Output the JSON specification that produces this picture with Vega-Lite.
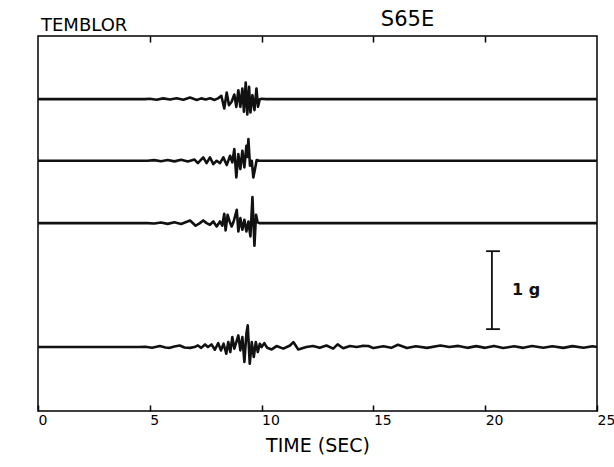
{
  "$schema": "https://vega.github.io/schema/vega-lite/v6.json",
  "width": 559,
  "height": 375,
  "autosize": {"type": "none"},
  "padding": {"left": 38, "top": 36, "right": 17, "bottom": 56},
  "background": "white",
  "title": {"text": "TEMBLOR", "anchor": "start", "frame": "group", "fontSize": 18, "fontWeight": "normal", "font": "DejaVu Sans", "color": "black", "baseline": "alphabetic", "offset": -41, "dx": 3},
  "config": {
    "view": {"stroke": "black", "strokeWidth": 1.5},
    "font": "DejaVu Sans"
  },
  "datasets": {
    "bases": [
      {"s": 1, "base": 4.0},
      {"s": 2, "base": 3.21},
      {"s": 3, "base": 2.41},
      {"s": 4, "base": 0.82}
    ],
    "traces": [
      {"s":1,"t":0,"a":0},{"s":1,"t":4.8,"a":0},{"s":1,"t":5.0,"a":0.005},{"s":1,"t":5.3,"a":-0.008},{"s":1,"t":5.6,"a":0.01},{"s":1,"t":5.9,"a":-0.005},{"s":1,"t":6.2,"a":0.012},{"s":1,"t":6.5,"a":-0.008},{"s":1,"t":6.8,"a":0.02},{"s":1,"t":6.95,"a":0.005},{"s":1,"t":7.1,"a":-0.01},{"s":1,"t":7.3,"a":0.01},{"s":1,"t":7.5,"a":-0.005},{"s":1,"t":7.7,"a":0.012},{"s":1,"t":7.9,"a":-0.01},{"s":1,"t":8.05,"a":0.01},{"s":1,"t":8.2,"a":0.043},{"s":1,"t":8.33,"a":-0.12},{"s":1,"t":8.44,"a":0.085},{"s":1,"t":8.54,"a":-0.077},{"s":1,"t":8.66,"a":-0.034},{"s":1,"t":8.78,"a":0.06},{"s":1,"t":8.87,"a":-0.1},{"s":1,"t":8.96,"a":0.115},{"s":1,"t":9.05,"a":-0.1},{"s":1,"t":9.14,"a":0.137},{"s":1,"t":9.21,"a":-0.162},{"s":1,"t":9.29,"a":0.214},{"s":1,"t":9.36,"a":-0.197},{"s":1,"t":9.44,"a":0.158},{"s":1,"t":9.5,"a":-0.171},{"s":1,"t":9.59,"a":0.051},{"s":1,"t":9.68,"a":-0.141},{"s":1,"t":9.77,"a":0.137},{"s":1,"t":9.84,"a":-0.098},{"s":1,"t":9.92,"a":0.0},{"s":1,"t":10.0,"a":0.005},{"s":1,"t":10.2,"a":0},{"s":1,"t":25,"a":0},
      {"s":2,"t":0,"a":0},{"s":2,"t":4.9,"a":0},{"s":2,"t":5.2,"a":0.008},{"s":2,"t":5.5,"a":-0.006},{"s":2,"t":5.8,"a":0.01},{"s":2,"t":6.1,"a":-0.008},{"s":2,"t":6.4,"a":0.012},{"s":2,"t":6.7,"a":-0.01},{"s":2,"t":7.0,"a":0.015},{"s":2,"t":7.15,"a":-0.03},{"s":2,"t":7.39,"a":0.043},{"s":2,"t":7.54,"a":-0.03},{"s":2,"t":7.69,"a":0.043},{"s":2,"t":7.84,"a":-0.043},{"s":2,"t":7.99,"a":0},{"s":2,"t":8.14,"a":-0.03},{"s":2,"t":8.29,"a":0.043},{"s":2,"t":8.44,"a":-0.056},{"s":2,"t":8.59,"a":0.064},{"s":2,"t":8.69,"a":-0.021},{"s":2,"t":8.78,"a":0.15},{"s":2,"t":8.87,"a":-0.214},{"s":2,"t":8.96,"a":0.085},{"s":2,"t":9.05,"a":-0.107},{"s":2,"t":9.14,"a":0.128},{"s":2,"t":9.23,"a":-0.085},{"s":2,"t":9.32,"a":0.192},{"s":2,"t":9.36,"a":0.05},{"s":2,"t":9.41,"a":0.278},{"s":2,"t":9.48,"a":-0.064},{"s":2,"t":9.56,"a":0.0},{"s":2,"t":9.63,"a":-0.214},{"s":2,"t":9.71,"a":-0.1},{"s":2,"t":9.78,"a":0.01},{"s":2,"t":9.9,"a":0},{"s":2,"t":25,"a":0},
      {"s":3,"t":0,"a":0},{"s":3,"t":4.9,"a":0},{"s":3,"t":5.2,"a":-0.006},{"s":3,"t":5.5,"a":0.008},{"s":3,"t":5.8,"a":-0.01},{"s":3,"t":6.1,"a":0.01},{"s":3,"t":6.4,"a":-0.012},{"s":3,"t":6.8,"a":0.034},{"s":3,"t":7.05,"a":-0.034},{"s":3,"t":7.24,"a":0},{"s":3,"t":7.39,"a":0.034},{"s":3,"t":7.54,"a":0},{"s":3,"t":7.69,"a":-0.021},{"s":3,"t":7.84,"a":0.021},{"s":3,"t":7.99,"a":-0.043},{"s":3,"t":8.14,"a":0.021},{"s":3,"t":8.24,"a":-0.034},{"s":3,"t":8.33,"a":0.12},{"s":3,"t":8.39,"a":-0.094},{"s":3,"t":8.48,"a":0.107},{"s":3,"t":8.57,"a":0.021},{"s":3,"t":8.66,"a":-0.043},{"s":3,"t":8.75,"a":0.021},{"s":3,"t":8.89,"a":0.171},{"s":3,"t":8.96,"a":-0.107},{"s":3,"t":9.05,"a":0.064},{"s":3,"t":9.14,"a":-0.085},{"s":3,"t":9.23,"a":0.043},{"s":3,"t":9.32,"a":-0.107},{"s":3,"t":9.41,"a":0.021},{"s":3,"t":9.5,"a":-0.171},{"s":3,"t":9.59,"a":0.333},{"s":3,"t":9.68,"a":-0.29},{"s":3,"t":9.75,"a":0.107},{"s":3,"t":9.82,"a":0.01},{"s":3,"t":9.9,"a":0},{"s":3,"t":25,"a":0},
      {"s":4,"t":0,"a":0},{"s":4,"t":4.5,"a":0},{"s":4,"t":4.8,"a":0.005},{"s":4,"t":5.1,"a":-0.008},{"s":4,"t":5.45,"a":0.013},{"s":4,"t":5.7,"a":-0.005},{"s":4,"t":5.9,"a":-0.01},{"s":4,"t":6.1,"a":0.008},{"s":4,"t":6.34,"a":0.02},{"s":4,"t":6.55,"a":-0.005},{"s":4,"t":6.8,"a":-0.01},{"s":4,"t":7.0,"a":0},{"s":4,"t":7.15,"a":0.021},{"s":4,"t":7.3,"a":-0.01},{"s":4,"t":7.47,"a":0.034},{"s":4,"t":7.6,"a":0},{"s":4,"t":7.76,"a":0.034},{"s":4,"t":7.91,"a":-0.034},{"s":4,"t":8.06,"a":0.051},{"s":4,"t":8.18,"a":-0.043},{"s":4,"t":8.3,"a":0.043},{"s":4,"t":8.42,"a":-0.085},{"s":4,"t":8.51,"a":0.064},{"s":4,"t":8.6,"a":-0.064},{"s":4,"t":8.69,"a":0.128},{"s":4,"t":8.78,"a":-0.021},{"s":4,"t":8.87,"a":0.064},{"s":4,"t":8.96,"a":0.15},{"s":4,"t":9.05,"a":-0.043},{"s":4,"t":9.14,"a":0.128},{"s":4,"t":9.23,"a":-0.19},{"s":4,"t":9.32,"a":0.171},{"s":4,"t":9.38,"a":0.278},{"s":4,"t":9.47,"a":-0.214},{"s":4,"t":9.56,"a":0.064},{"s":4,"t":9.65,"a":-0.128},{"s":4,"t":9.74,"a":0.064},{"s":4,"t":9.83,"a":-0.064},{"s":4,"t":9.92,"a":0.043},{"s":4,"t":10.0,"a":0},{"s":4,"t":10.12,"a":0.05},{"s":4,"t":10.25,"a":-0.01},{"s":4,"t":10.45,"a":-0.03},{"s":4,"t":10.67,"a":0.013},{"s":4,"t":10.97,"a":-0.02},{"s":4,"t":11.27,"a":0.02},{"s":4,"t":11.42,"a":0.064},{"s":4,"t":11.64,"a":-0.03},{"s":4,"t":12.0,"a":0},{"s":4,"t":12.3,"a":0.013},{"s":4,"t":12.6,"a":-0.01},{"s":4,"t":12.9,"a":0.02},{"s":4,"t":13.2,"a":-0.02},{"s":4,"t":13.4,"a":0.034},{"s":4,"t":13.65,"a":-0.015},{"s":4,"t":13.95,"a":0.013},{"s":4,"t":14.25,"a":0},{"s":4,"t":14.5,"a":0.015},{"s":4,"t":14.78,"a":0.013},{"s":4,"t":15.0,"a":-0.013},{"s":4,"t":15.45,"a":0.01},{"s":4,"t":15.8,"a":-0.01},{"s":4,"t":16.1,"a":0.03},{"s":4,"t":16.5,"a":-0.013},{"s":4,"t":16.9,"a":0.01},{"s":4,"t":17.4,"a":-0.01},{"s":4,"t":18.0,"a":0.02},{"s":4,"t":18.4,"a":0},{"s":4,"t":18.8,"a":0.015},{"s":4,"t":19.2,"a":-0.01},{"s":4,"t":19.6,"a":0.012},{"s":4,"t":20.0,"a":-0.01},{"s":4,"t":20.4,"a":0.015},{"s":4,"t":20.8,"a":-0.012},{"s":4,"t":21.3,"a":0.01},{"s":4,"t":21.7,"a":-0.01},{"s":4,"t":22.1,"a":0.013},{"s":4,"t":22.6,"a":-0.008},{"s":4,"t":23.0,"a":0.01},{"s":4,"t":23.5,"a":-0.01},{"s":4,"t":23.9,"a":0.012},{"s":4,"t":24.4,"a":-0.008},{"s":4,"t":24.8,"a":0.01},{"s":4,"t":25.0,"a":0}
    ],
    "bar": [{"x": 20.3, "y1": 1.05, "y2": 2.05, "label": "1 g", "lx": 21.2, "ly": 1.55}],
    "caps": [{"x1": 20.04, "x2": 20.66, "y": 1.05}, {"x1": 20.04, "x2": 20.66, "y": 2.05}]
  },
  "layer": [
    {
      "data": {"name": "traces"},
      "transform": [
        {"lookup": "s", "from": {"data": {"name": "bases"}, "key": "s", "fields": ["base"]}},
        {"calculate": "datum.base + datum.a", "as": "y"}
      ],
      "mark": {"type": "line", "color": "#111", "strokeWidth": 2.6, "strokeJoin": "round", "clip": true},
      "encoding": {
        "x": {"field": "t", "type": "quantitative", "scale": {"domain": [0, 25], "nice": false, "zero": false},
          "axis": {"orient": "bottom", "values": [0, 5, 10, 15, 20, 25], "tickSize": -6, "tickWidth": 1.5, "tickColor": "black", "domain": false, "grid": false,
            "labelAlign": "left", "labelBaseline": "top", "labelPadding": 8, "labelFontSize": 14, "labelDx": -1, "labelColor": "black", "labelFont": "DejaVu Sans", "labelFlush": false, "labelOverlap": false,
            "title": "TIME (SEC)", "titleFontSize": 19, "titleFontWeight": "normal", "titleColor": "black", "titleFont": "DejaVu Sans", "titleBaseline": "middle", "titleY": 34}},
        "y": {"field": "y", "type": "quantitative", "scale": {"domain": [0, 4.81], "nice": false, "zero": false},
          "axis": {"title": "ACCELERATION", "domain": false, "ticks": false, "labels": false, "grid": false, "titleFontSize": 18, "titleFontWeight": "normal", "titleColor": "black", "titleFont": "DejaVu Sans", "titleAngle": 270, "titleBaseline": "middle", "titleAlign": "center", "titleX": -26, "titleY": 187}},
        "detail": {"field": "s", "type": "nominal"}
      }
    },
    {
      "data": {"name": "bar"},
      "mark": {"type": "rule", "color": "#111", "strokeWidth": 1.8},
      "encoding": {
        "x": {"field": "x", "type": "quantitative",
          "axis": {"orient": "top", "values": [5, 10, 15, 20], "tickSize": -6, "tickWidth": 1.5, "tickColor": "black", "domain": false, "grid": false, "labels": false,
            "title": "S65E", "titleFontSize": 21, "titleFontWeight": "normal", "titleColor": "black", "titleFont": "DejaVu Sans", "titleBaseline": "middle", "titleAlign": "center", "titleX": 369, "titleY": -17}},
        "y": {"field": "y1", "type": "quantitative"},
        "y2": {"field": "y2"}
      }
    },
    {
      "data": {"name": "caps"},
      "mark": {"type": "rule", "color": "#111", "strokeWidth": 1.8},
      "encoding": {
        "x": {"field": "x1", "type": "quantitative", "axis": null},
        "x2": {"field": "x2"},
        "y": {"field": "y", "type": "quantitative", "axis": null}
      }
    },
    {
      "data": {"name": "bar"},
      "mark": {"type": "text", "align": "left", "baseline": "middle", "fontSize": 16, "fontWeight": "bold", "font": "DejaVu Sans", "color": "#111"},
      "encoding": {
        "x": {"field": "lx", "type": "quantitative", "axis": null},
        "y": {"field": "ly", "type": "quantitative", "axis": null},
        "text": {"field": "label"}
      }
    }
  ],
  "resolve": {"axis": {"x": "independent"}}
}
